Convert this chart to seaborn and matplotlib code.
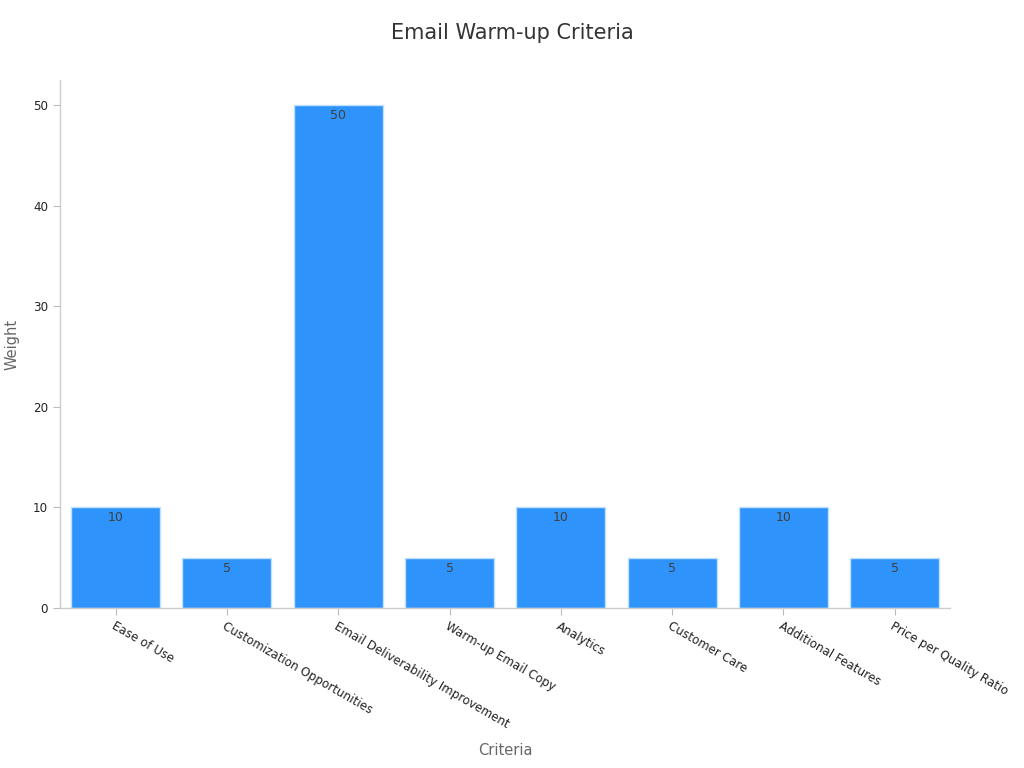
import pandas as pd
import matplotlib.pyplot as plt
import seaborn as sns

criteria = ["Ease of Use", "Customization Opportunities", "Email Deliverability Improvement",
            "Warm-up Email Copy", "Analytics", "Customer Care", "Additional Features",
            "Price per Quality Ratio"]
weights = [10, 5, 50, 5, 10, 5, 10, 5]

df = pd.DataFrame({"Criteria": criteria, "Weight": weights})

sns.set_style("white")
plt.rcParams['font.family'] = ['DejaVu Sans']

fig = plt.figure(figsize=(10.24, 7.68), dpi=100)
ax = fig.add_axes([0.0586, 0.2083, 0.8695, 0.6875])

sns.barplot(ax=ax, data=df, x="Criteria", y="Weight", color="#2E93FA", saturation=1,
            width=0.8, edgecolor="#BFE0FF", linewidth=1)

for i, v in enumerate(weights):
    ax.text(i, v - 0.4, str(v), ha="center", va="top", fontsize=9, color="#404040")

ax.set_xlim(-0.5, 7.5)
ax.set_ylim(0, 52.5)
ax.set_yticks([0, 10, 20, 30, 40, 50])
ax.set_xticks(range(len(criteria)))
ax.set_xticklabels(criteria, rotation=-30, ha="left", rotation_mode="anchor", fontsize=8.6, color="#222222")
ax.tick_params(axis="y", labelsize=8.6, labelcolor="#222222")
ax.tick_params(axis="both", length=5, color="#bbbbbb", direction="out", bottom=True, left=True)

for s in ["top", "right"]:
    ax.spines[s].set_visible(False)
for s in ["left", "bottom"]:
    ax.spines[s].set_color("#cccccc")
    ax.spines[s].set_linewidth(1)

ax.set_xlabel("Criteria", fontsize=10.5, color="#666666")
ax.xaxis.set_label_coords(0.5, -0.256)
ax.set_ylabel("Weight", fontsize=10.5, color="#666666")
ax.yaxis.set_label_coords(-0.045, 0.5)
fig.suptitle("Email Warm-up Criteria", fontsize=15, color="#333333", y=0.97)

fig.savefig("out.png", dpi=100)
